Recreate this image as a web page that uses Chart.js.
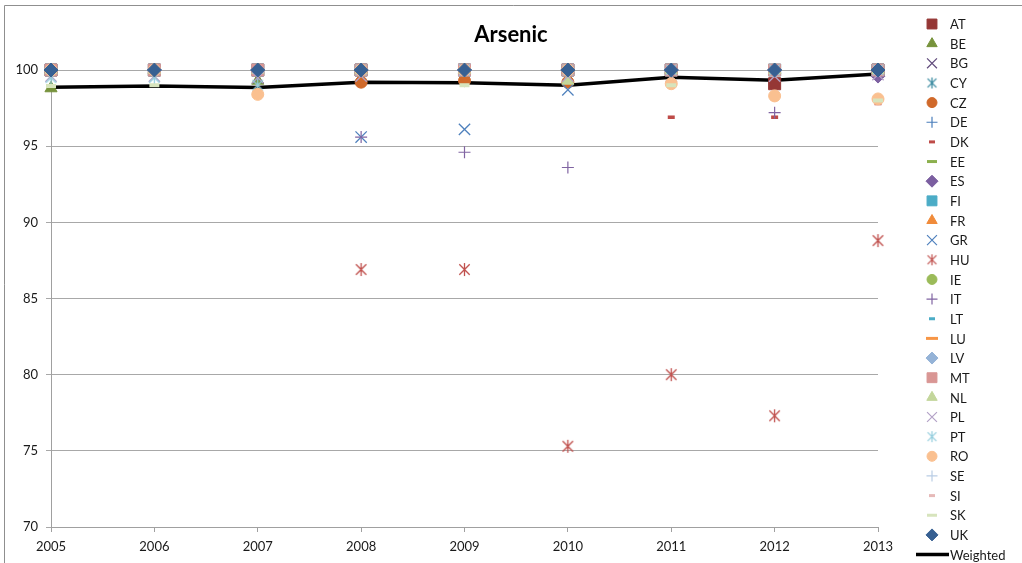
<!DOCTYPE html>
<html>
<head>
<meta charset="utf-8">
<title>Arsenic</title>
<script src="https://cdn.jsdelivr.net/npm/chart.js@4/dist/chart.umd.min.js"></script>
<style>
  html, body { margin: 0; padding: 0; background: #ffffff; }
  #wrap { width: 1022px; height: 563px; position: relative; }
</style>
</head>
<body>
<div id="wrap"><canvas id="chart" width="1022" height="563"></canvas></div>
<script>
// Compliance rate (%) per member state, 2005-2013
const years = ['2005', '2006', '2007', '2008', '2009', '2010', '2011', '2012', '2013'];
const yTicks = [70, 75, 80, 85, 90, 95, 100];

const AT = [100, 100, 100, 100, 100, 100, 100, 99.1, 100];
const BE = [98.8, 100, 99.3, 100, 100, 100, 100, 100, 100];
const BG = [100, 100, 99.5, 100, 100, 100, 100, 100, 100];
const CY = [100, 100, 100, 100, 100, 100, 100, 100, 100];
const CZ = [100, 100, 100, 99.2, 99.3, 99.2, 100, 100, 100];
const DE = [100, 100, 100, 100, 100, 100, 100, 100, 100];
const DK = [100, 100, 100, 100, 100, 100, 96.9, 96.9, 97.8];
const EE = [100, 100, 100, 100, 100, 100, 100, 100, 100];
const ES = [100, 100, 100, 100, 100, 100, 100, 100, 99.6];
const FI = [100, 100, 100, 100, 100, 100, 100, 100, 100];
const FR = [100, 100, 100, 100, 100, 100, 100, 100, 100];
const GR = [100, 100, 100, 95.6, 96.1, 98.7, 100, 100, 100];
const HU = [100, 100, 100, 86.9, 86.9, 75.3, 80.0, 77.3, 88.8];
const IE = [100, 100, 100, 100, 100, 100, 100, 100, 100];
const IT = [100, 100, 100, 95.6, 94.6, 93.6, 100, 97.2, 99.6];
const LT = [100, 100, 100, 100, 100, 100, 100, 100, 100];
const LU = [100, 100, 100, 100, 100, 100, 100, 100, 100];
const LV = [100, 100, 100, 100, 100, 100, 100, 100, 100];
const MT = [100, 100, 100, 100, 100, 100, 100, 100, 100];
const NL = [100, 100, 100, 100, 100, 99.3, 100, 100, 100];
const PL = [99.6, 99.6, 99.5, 99.6, 100, 99.6, 99.6, 99.6, 99.7];
const PT = [99.5, 99.5, 99.0, 100, 100, 100, 100, 100, 100];
const RO = [100, 100, 98.4, 100, 100, 100, 99.1, 98.3, 98.1];
const SE = [100, 100, 100, 100, 100, 100, 100, 100, 100];
const SI = [100, 100, 100, 100, 100, 100, 100, 100, 100];
const SK = [98.95, 99.0, 100, 100, 99.0, 100, 99.0, 100, 98.0];
const UK = [100, 100, 100, 100, 100, 100, 100, 100, 100];
const weighted = [98.86, 98.95, 98.85, 99.2, 99.17, 99.0, 99.52, 99.32, 99.74];

const countryNames = ['AT', 'BE', 'BG', 'CY', 'CZ', 'DE', 'DK', 'EE', 'ES', 'FI', 'FR', 'GR', 'HU',
  'IE', 'IT', 'LT', 'LU', 'LV', 'MT', 'NL', 'PL', 'PT', 'RO', 'SE', 'SI', 'SK', 'UK'];
const countryValues = [AT, BE, BG, CY, CZ, DE, DK, EE, ES, FI, FR, GR, HU,
  IE, IT, LT, LU, LV, MT, NL, PL, PT, RO, SE, SI, SK, UK];

// Marker look for each series (colour, shape)
const countryColors = ['#953735', '#77933C', '#604A7B', '#31859C', '#D0692A', '#4A7EBB', '#BE4B48',
  '#8CB04E', '#7B5EA0', '#4BACC6', '#F08B3A', '#4F81BD', '#C0504D', '#9BBB59', '#8064A2',
  '#4BACC6', '#F79646', '#95B3D7', '#D99694', '#C3D69B', '#B3A2C7', '#93CDDD', '#FAC090',
  '#B9CDE5', '#E6B9B8', '#D7E4BD', '#376092'];
const countryShapes = ['rect', 'triangle', 'crossRot', 'star', 'circle', 'cross', 'dashS', 'dashM',
  'rectRot', 'rect', 'triangle', 'crossRot', 'star', 'circle', 'cross', 'dashS', 'dashL',
  'rectRot', 'rect', 'triangle', 'crossRot', 'star', 'circle', 'cross', 'dashS', 'dashM', 'rectRot'];

const plotSize = {
  rect: { style: 'rect', r: 8.5, bw: 1 },
  triangle: { style: 'triangle', r: 7, bw: 1 },
  crossRot: { style: 'crossRot', r: 8, bw: 1.3 },
  star: { style: 'star', r: 6.5, bw: 1.3 },
  circle: { style: 'circle', r: 6, bw: 1 },
  cross: { style: 'cross', r: 6, bw: 1.2 },
  rectRot: { style: 'rectRot', r: 7, bw: 1 },
  dashS: { style: 'line', r: 3.5, bw: 3.5 },
  dashM: { style: 'line', r: 5, bw: 4 },
  dashL: { style: 'line', r: 5.5, bw: 3.5 }
};
const legendSize = {
  rect: { r: 7, bw: 1 },
  triangle: { r: 6, bw: 1 },
  crossRot: { r: 7, bw: 1.2 },
  star: { r: 5.5, bw: 1.2 },
  circle: { r: 5, bw: 1 },
  cross: { r: 5.5, bw: 1.2 },
  rectRot: { r: 6, bw: 1 },
  dashS: { r: 3, bw: 3 },
  dashM: { r: 5, bw: 3 },
  dashL: { r: 6, bw: 3 }
};

// Six-armed asterisk marker: an X with a vertical bar through it
function asterisk(color, r, lw) {
  const size = Math.ceil(2 * r + 2);
  const cv = document.createElement('canvas');
  cv.width = size;
  cv.height = size;
  const g = cv.getContext('2d');
  const c = size / 2;
  const d = r * 0.8;
  g.strokeStyle = color;
  g.lineWidth = lw;
  g.beginPath();
  g.moveTo(c - d, c - d); g.lineTo(c + d, c + d);
  g.moveTo(c + d, c - d); g.lineTo(c - d, c + d);
  g.moveTo(c, c - r); g.lineTo(c, c + r);
  g.stroke();
  return cv;
}

const FONT = 'Lato, "Open Sans", "DejaVu Sans", sans-serif';

const datasets = countryNames.map((name, i) => {
  const shape = countryShapes[i];
  const s = plotSize[shape];
  const style = shape === 'star' ? asterisk(countryColors[i], s.r, s.bw) : s.style;
  return {
    label: name,
    data: countryValues[i],
    showLine: false,
    pointStyle: style,
    pointRadius: s.r,
    pointHoverRadius: s.r,
    pointBorderWidth: s.bw,
    pointBackgroundColor: countryColors[i],
    pointBorderColor: countryColors[i],
    borderColor: countryColors[i],
    backgroundColor: countryColors[i],
    order: 40 - i,
    clip: false
  };
});
datasets.push({
  label: 'Weighted',
  data: weighted,
  borderColor: '#000000',
  backgroundColor: '#000000',
  borderWidth: 3.5,
  pointRadius: 0,
  pointHoverRadius: 0,
  tension: 0,
  order: 100,
  clip: false
});

// Outer frame of the chart object
const framePlugin = {
  id: 'frame',
  beforeDraw(chart) {
    const ctx = chart.ctx;
    ctx.save();
    ctx.strokeStyle = '#8f8f8f';
    ctx.lineWidth = 1;
    ctx.beginPath();
    ctx.moveTo(4.5, chart.height + 2);
    ctx.lineTo(4.5, 5.5);
    ctx.lineTo(chart.width + 2, 5.5);
    ctx.stroke();
    ctx.restore();
  }
};

// Legend column drawn in the space reserved at the right
const sideLegend = {
  id: 'sideLegend',
  afterDraw(chart) {
    const ctx = chart.ctx;
    const markerX = 932;
    const textX = 950;
    const top = 24;
    const step = 19.65;
    ctx.save();
    ctx.font = '13px ' + FONT;
    ctx.textBaseline = 'middle';
    ctx.textAlign = 'left';
    countryNames.forEach((name, i) => {
      const y = top + i * step;
      const shape = countryShapes[i];
      const s = legendSize[shape];
      ctx.fillStyle = countryColors[i];
      ctx.strokeStyle = countryColors[i];
      ctx.lineWidth = s.bw;
      const style = shape === 'star' ? asterisk(countryColors[i], s.r, s.bw) : plotSize[shape].style;
      Chart.helpers.drawPoint(ctx, {
        pointStyle: style,
        radius: s.r,
        rotation: 0,
        borderWidth: s.bw
      }, markerX, y);
      ctx.fillStyle = '#1a1a1a';
      ctx.fillText(name, textX, y + 1);
    });
    const wy = top + countryNames.length * step;
    ctx.strokeStyle = '#000000';
    ctx.lineWidth = 3.5;
    ctx.beginPath();
    ctx.moveTo(916, wy);
    ctx.lineTo(949, wy);
    ctx.stroke();
    ctx.fillStyle = '#1a1a1a';
    ctx.fillText('Weighted', textX, wy + 1);
    ctx.restore();
  }
};

new Chart(document.getElementById('chart'), {
  type: 'line',
  data: { labels: years, datasets: datasets },
  options: {
    responsive: false,
    animation: false,
    devicePixelRatio: 1,
    layout: { padding: { left: 0, right: 0, top: 0, bottom: 0 } },
    plugins: {
      legend: { display: false },
      tooltip: { enabled: false },
      title: {
        display: true,
        text: 'Arsenic',
        color: '#000000',
        font: { family: FONT, size: 22, weight: 'bold', lineHeight: 1.2 },
        padding: { top: 22, bottom: 21.6 }
      }
    },
    scales: {
      x: {
        type: 'category',
        offset: false,
        grid: {
          display: true,
          drawOnChartArea: false,
          drawTicks: true,
          tickLength: 5,
          color: '#a0a0a0'
        },
        border: { display: true, color: '#a0a0a0' },
        ticks: {
          color: '#1a1a1a',
          font: { family: FONT, size: 13 },
          padding: 7,
          maxRotation: 0,
          autoSkip: false
        },
        afterFit(scale) { scale.height = 36; }
      },
      y: {
        type: 'linear',
        position: 'left',
        min: yTicks[0],
        max: yTicks[yTicks.length - 1],
        grid: {
          color: '#a8a8a8',
          lineWidth: 1,
          drawTicks: true,
          tickLength: 5
        },
        border: { display: true, color: '#a0a0a0' },
        ticks: {
          color: '#1a1a1a',
          font: { family: FONT, size: 13 },
          padding: 8
        },
        afterBuildTicks(scale) { scale.ticks = yTicks.map(v => ({ value: v })); },
        afterFit(scale) { scale.width = 51; }
      },
      legendSpace: {
        type: 'linear',
        position: 'right',
        display: true,
        grid: { display: false },
        border: { display: false },
        ticks: { display: false },
        afterFit(scale) { scale.width = 144; }
      }
    }
  },
  plugins: [framePlugin, sideLegend]
});
</script>
</body>
</html>
